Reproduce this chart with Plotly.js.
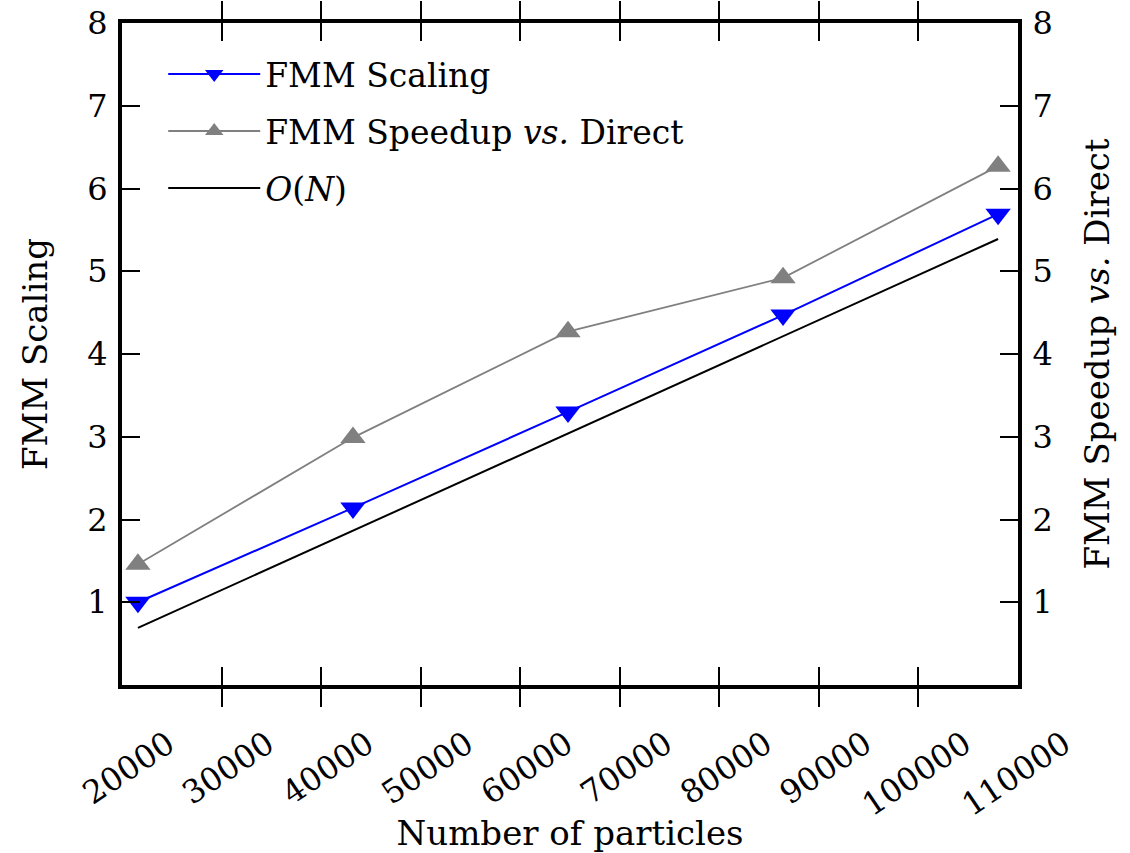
<!DOCTYPE html>
<html>
<head>
<meta charset="utf-8">
<script src="https://cdn.plot.ly/plotly-3.0.1.min.js"></script>
<style>body{margin:0;background:#fff;}#chart{width:1130px;height:853px;}</style>
</head>
<body>
<div id="chart"></div>
<script>
const particles = [21600, 43200, 64800, 86400, 108000];
const fmmScaling = [1.0, 2.14, 3.30, 4.47, 5.69];
const fmmSpeedup = [1.46, 2.99, 4.27, 4.92, 6.27];
const orderNx = [21600, 108000];
const orderN = [0.69, 5.39];
const xTicks = [20000, 30000, 40000, 50000, 60000, 70000, 80000, 90000, 100000, 110000];
const yTicks = [1, 2, 3, 4, 5, 6, 7, 8];

const FONT = "DejaVu Serif";
const traces = [
  {x: particles, y: fmmScaling, name: "FMM Scaling", mode: "lines+markers", legendgroup: "a",
   line: {color: "#0000ff", width: 2}, marker: {symbol: "triangle-down", size: 22, color: "#0000ff"}},
  {x: particles, y: fmmSpeedup, name: "FMM Speedup <i>vs.</i> Direct", mode: "lines+markers", yaxis: "y2", legendgroup: "b",
   line: {color: "#808080", width: 1.8}, marker: {symbol: "triangle-up", size: 22, color: "#808080"}},
  {x: orderNx, y: orderN, name: "<i>O</i>(<i>N</i>)", mode: "lines", legendgroup: "c",
   line: {color: "#000000", width: 2}}
];
const yax = {
  range: [0, 8], tickvals: yTicks, ticks: "inside", ticklen: 18, tickwidth: 2, tickcolor: "#000",
  showgrid: false, zeroline: false, showline: true, linewidth: 4, linecolor: "#000",
  tickfont: {family: FONT, size: 32, color: "#000"}, ticklabelstandoff: 4
};
const layout = {
  width: 1130, height: 853,
  margin: {l: 122, r: 112, t: 23, b: 168},
  paper_bgcolor: "#fff", plot_bgcolor: "#fff",
  font: {family: FONT, color: "#000"},
  showlegend: true,
  legend: {x: 0.046, y: 0.965, xanchor: "left", yanchor: "top", bgcolor: "rgba(0,0,0,0)",
           font: {family: FONT, size: 33, color: "#000"}, itemwidth: 92, tracegroupgap: 11,
           traceorder: "grouped"},
  xaxis: {
    range: [20000, 110000], tickvals: xTicks, ticktext: xTicks.map(String), tickangle: -34,
    ticks: "inside", ticklen: 18, tickwidth: 2, tickcolor: "#000", mirror: "allticks",
    showgrid: false, zeroline: false, showline: true, linewidth: 4, linecolor: "#000",
    tickfont: {family: FONT, size: 32, color: "#000"}, ticklabelshift: 46, ticklabelstandoff: 24,
    title: {text: "Number of particles", font: {family: FONT, size: 34, color: "#000"}, standoff: 3}
  },
  yaxis: Object.assign({}, yax, {
    title: {text: "FMM Scaling", font: {family: FONT, size: 34, color: "#000"}, standoff: 30}
  }),
  yaxis2: Object.assign({}, yax, {
    overlaying: "y", side: "right",
    title: {text: "FMM Speedup <i>vs.</i> Direct", font: {family: FONT, size: 34, color: "#000"}, standoff: 34}
  })
};
Plotly.newPlot("chart", traces, layout, {displayModeBar: false, staticPlot: true});
</script>
</body>
</html>
